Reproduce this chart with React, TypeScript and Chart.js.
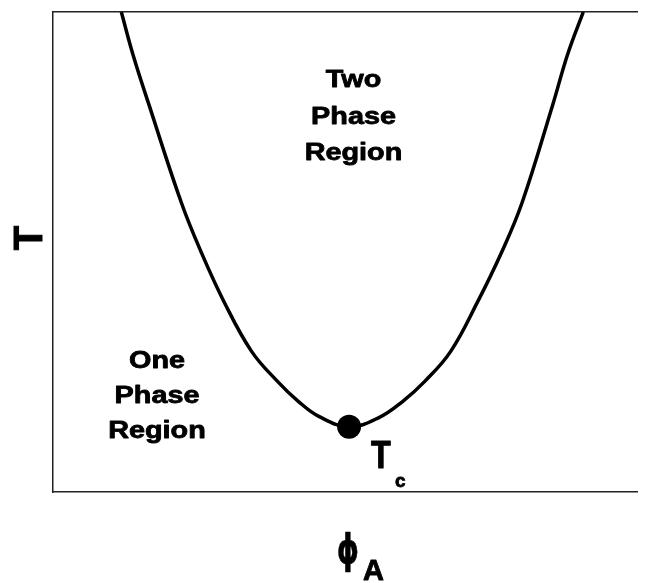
import React, { useEffect, useRef } from 'react';
import { Chart, registerables } from 'chart.js';

Chart.register(...registerables);

// Coexistence curve (binodal): volume fraction of A vs temperature (normalized axes 0..1)
const phiA = [0.117, 0.137, 0.164, 0.220, 0.254, 0.293, 0.340, 0.384, 0.419, 0.456, 0.507, 0.558, 0.600, 0.637, 0.681, 0.727, 0.768, 0.803, 0.856, 0.881, 0.908];
const temperature = [1.0, 0.911, 0.808, 0.602, 0.499, 0.396, 0.293, 0.231, 0.190, 0.157, 0.136, 0.155, 0.190, 0.231, 0.293, 0.396, 0.499, 0.602, 0.808, 0.911, 1.0];

// Critical point
const criticalPhi = [0.507];
const criticalT = [0.136];

// Text labels
const twoPhaseLines = ['Two', 'Phase', 'Region'];
const onePhaseLines = ['One', 'Phase', 'Region'];
const yAxisLabel = 'T';
const xAxisSymbol = 'ϕ';
const xAxisSub = 'A';
const criticalLabel = 'T';
const criticalSub = 'c';

const FONT = "'Liberation Sans', Arial, Helvetica, sans-serif";

const textPlugin = {
  id: 'phaseText',
  afterDraw(chart: any) {
    const { ctx, chartArea: a } = chart;
    const L = a.left;
    const T = a.top;
    const draw = (text: string, x: number, y: number, font: string, sx: number, align: CanvasTextAlign, stroke = 0.8) => {
      ctx.save();
      ctx.translate(x, y);
      ctx.scale(sx, 1);
      ctx.font = font;
      ctx.fillStyle = '#000';
      ctx.strokeStyle = '#000';
      ctx.lineWidth = stroke;
      ctx.lineJoin = 'round';
      ctx.textAlign = align;
      ctx.textBaseline = 'alphabetic';
      ctx.fillText(text, 0, 0);
      if (stroke > 0) ctx.strokeText(text, 0, 0);
      ctx.restore();
    };
    const regionFont = `bold 24px ${FONT}`;
    const twoBase = [87, 124, 160];
    twoPhaseLines.forEach((s, i) => draw(s, L + 300.5, twoBase[i], regionFont, 1.2, 'center'));
    const oneBase = [368, 403, 438];
    onePhaseLines.forEach((s, i) => draw(s, L + 104, oneBase[i], regionFont, 1.2, 'center'));

    // Tc label
    draw(criticalLabel, L + 318, 468, `bold 38px ${FONT}`, 0.85, 'left', 1);
    draw(criticalSub, L + 342, 487, `bold 19px ${FONT}`, 1, 'left', 0.8);

    // x axis label phi_A
    draw(xAxisSymbol, L + 295, 563, `bold 40px 'DejaVu Sans', sans-serif`, 0.7, 'center', 0.6);
    draw(xAxisSub, L + 310, 580, `bold 29px ${FONT}`, 1, 'left', 0.8);

    // y axis label T (rotated)
    ctx.save();
    ctx.translate(42, (T + a.bottom) / 2 - 14);
    ctx.rotate(-Math.PI / 2);
    ctx.font = `bold 40px ${FONT}`;
    ctx.fillStyle = '#000';
    ctx.strokeStyle = '#000';
    ctx.lineWidth = 1;
    ctx.textAlign = 'center';
    ctx.textBaseline = 'alphabetic';
    ctx.fillText(yAxisLabel, 0, 0);
    ctx.strokeText(yAxisLabel, 0, 0);
    ctx.restore();
  },
};

export default function App() {
  const ref = useRef<HTMLCanvasElement | null>(null);
  useEffect(() => {
    document.body.style.margin = '0';
    const canvas = ref.current;
    if (!canvas) return;
    const curve = phiA.map((x, i) => ({ x, y: temperature[i] }));
    const crit = criticalPhi.map((x, i) => ({ x, y: criticalT[i] }));
    const axisCommon = {
      type: 'linear' as const,
      min: 0,
      max: 1,
      ticks: { display: false },
      grid: { display: false, drawTicks: false },
      border: { display: true, color: '#222', width: 1.5 },
    };
    const chart = new Chart(canvas, {
      type: 'scatter',
      data: {
        datasets: [
          {
            data: curve,
            showLine: true,
            borderColor: '#000',
            borderWidth: 3.5,
            pointRadius: 0,
            tension: 0.4,
            fill: false,
          },
          {
            data: crit,
            showLine: false,
            pointRadius: 12,
            pointBackgroundColor: '#000',
            pointBorderColor: '#000',
            borderWidth: 0,
          },
        ],
      },
      options: {
        responsive: false,
        animation: false,
        layout: { padding: { left: 53, top: 7, right: 6, bottom: 91 } },
        plugins: { legend: { display: false }, tooltip: { enabled: false } },
        scales: {
          x: { ...axisCommon, position: 'bottom' },
          x2: { ...axisCommon, position: 'top' },
          y: { ...axisCommon, position: 'left' },
        },
      },
      plugins: [textPlugin],
    });
    return () => chart.destroy();
  }, []);
  return (
    <div style={{ width: 649, height: 583, background: '#fff' }}>
      <canvas ref={ref} width={649} height={583} />
    </div>
  );
}
